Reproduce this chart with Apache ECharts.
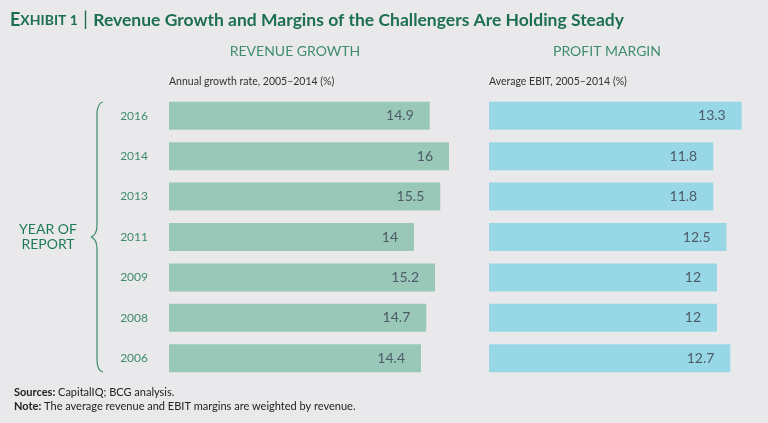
<!DOCTYPE html>
<html>
<head>
<meta charset="utf-8">
<script src="https://cdn.jsdelivr.net/npm/echarts@6/dist/echarts.min.js"></script>
<style>
html,body{margin:0;padding:0;background:#e9e9eb;}
#c{width:768px;height:423px;}
</style>
</head>
<body>
<div id="c"></div>
<script>
const years = ['2016','2014','2013','2011','2009','2008','2006'];
const revenueGrowth = [14.9, 16, 15.5, 14, 15.2, 14.7, 14.4];
const profitMargin = [13.3, 11.8, 11.8, 12.5, 12, 12, 12.7];

const chart = echarts.init(document.getElementById('c'));
const FONT = 'Lato, "Open Sans", sans-serif';
const bandTop = 95.5, bandH = 283;
const GREEN = '#1d6f52';
const labelStyle = {
  show: true, position: 'insideRight', distance: 16,
  color: '#4d5b69', fontSize: 14, fontFamily: FONT
};
const braceColor = '#3d8a6e';
chart.setOption({
  backgroundColor: '#e9e9eb',
  animation: false,
  textStyle: {fontFamily: FONT},
  grid: [
    {left: 169, top: bandTop, width: 280, height: bandH},
    {left: 489, top: bandTop, width: 266, height: bandH}
  ],
  xAxis: [
    {gridIndex: 0, type: 'value', min: 0, max: 16, show: false},
    {gridIndex: 1, type: 'value', min: 0, max: 14, show: false}
  ],
  yAxis: [
    {gridIndex: 0, type: 'category', data: years, inverse: true,
     axisLine: {show: false}, axisTick: {show: false}, splitLine: {show: false},
     axisLabel: {color: '#3d8a6e', fontSize: 12, margin: 21, fontFamily: FONT}},
    {gridIndex: 1, type: 'category', data: years, inverse: true, show: false}
  ],
  series: [
    {type: 'bar', xAxisIndex: 0, yAxisIndex: 0, data: revenueGrowth, barWidth: 28,
     itemStyle: {color: '#99c8b8'}, label: labelStyle},
    {type: 'bar', xAxisIndex: 1, yAxisIndex: 1, data: profitMargin, barWidth: 28,
     itemStyle: {color: '#98d8e6'}, label: labelStyle}
  ],
  graphic: [
    {type: 'text', x: 10, y: 20, style: {
      text: '{a|E}{b|XHIBIT 1}{s| | }{t|Revenue Growth and Margins of the Challengers Are Holding Steady}',
      verticalAlign: 'middle',
      rich: {
        a: {fontSize: 18, fontWeight: 'bold', fill: GREEN, fontFamily: FONT},
        b: {fontSize: 14, fontWeight: 'bold', fill: GREEN, fontFamily: FONT},
        s: {fontSize: 20, fill: GREEN, fontFamily: FONT, fontWeight: 'normal'},
        t: {fontSize: 17.5, fontWeight: 'bold', fill: GREEN, fontFamily: FONT}
      }
    }},
    {type: 'text', x: 295, y: 51, style: {text: 'REVENUE GROWTH', fill: '#3f8c72', fontSize: 14, fontFamily: FONT, align: 'center', verticalAlign: 'middle'}},
    {type: 'text', x: 607, y: 51, style: {text: 'PROFIT MARGIN', fill: '#3f8c72', fontSize: 14, fontFamily: FONT, align: 'center', verticalAlign: 'middle'}},
    {type: 'text', x: 169, y: 82, style: {text: 'Annual growth rate, 2005–2014 (%)', fill: '#333', fontSize: 10.5, fontFamily: FONT, verticalAlign: 'middle'}},
    {type: 'text', x: 489, y: 82, style: {text: 'Average EBIT, 2005–2014 (%)', fill: '#333', fontSize: 10.5, fontFamily: FONT, verticalAlign: 'middle'}},
    {type: 'text', x: 48, y: 237, style: {text: 'YEAR OF\nREPORT', fill: '#1f7a5a', fontSize: 14, lineHeight: 15, fontFamily: FONT, align: 'center', verticalAlign: 'middle'}},
    {type: 'bezierCurve', shape: {x1: 103, y1: 102, x2: 97, y2: 115, cpx1: 97, cpy1: 103}, style: {fill: null, stroke: braceColor, lineWidth: 1.2}},
    {type: 'line', shape: {x1: 97, y1: 115, x2: 97, y2: 225}, style: {stroke: braceColor, lineWidth: 1.2}},
    {type: 'bezierCurve', shape: {x1: 97, y1: 225, x2: 91, y2: 237, cpx1: 97, cpy1: 235}, style: {fill: null, stroke: braceColor, lineWidth: 1.2}},
    {type: 'bezierCurve', shape: {x1: 91, y1: 237, x2: 97, y2: 249, cpx1: 97, cpy1: 239}, style: {fill: null, stroke: braceColor, lineWidth: 1.2}},
    {type: 'line', shape: {x1: 97, y1: 249, x2: 97, y2: 359}, style: {stroke: braceColor, lineWidth: 1.2}},
    {type: 'bezierCurve', shape: {x1: 97, y1: 359, x2: 103, y2: 372, cpx1: 97, cpy1: 371}, style: {fill: null, stroke: braceColor, lineWidth: 1.2}},
    {type: 'text', x: 14, y: 392, style: {
      text: '{b|Sources:} CapitalIQ; BCG analysis.',
      rich: {b: {fontWeight: 'bold', fontSize: 11, fill: '#222', fontFamily: FONT}},
      fill: '#222', fontSize: 11, fontFamily: FONT, verticalAlign: 'middle'}},
    {type: 'text', x: 14, y: 406, style: {
      text: '{b|Note:} The average revenue and EBIT margins are weighted by revenue.',
      rich: {b: {fontWeight: 'bold', fontSize: 11, fill: '#222', fontFamily: FONT}},
      fill: '#222', fontSize: 11, fontFamily: FONT, verticalAlign: 'middle'}}
  ]
});
</script>
</body>
</html>
